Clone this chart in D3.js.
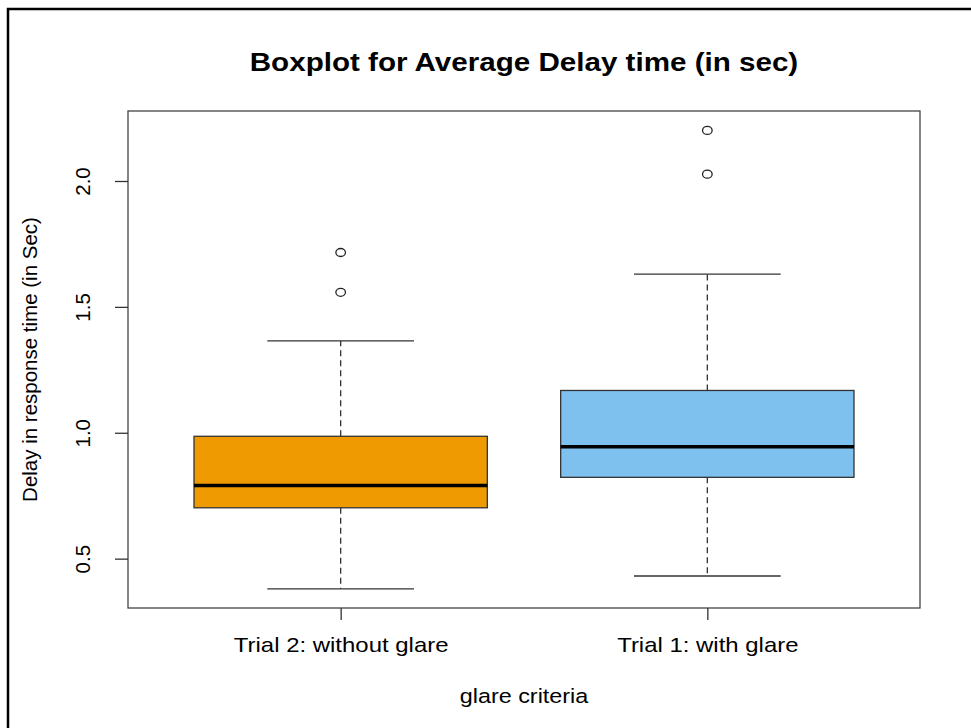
<!DOCTYPE html>
<html>
<head>
<meta charset="utf-8">
<script src="https://d3js.org/d3.v7.min.js"></script>
<style>
body { margin: 0; background: #fff; }
text { font-family: "Liberation Sans", Arial, sans-serif; fill: #000; }
</style>
</head>
<body>
<svg id="box" width="971" height="728"></svg>
<script>
// values
const categories = ["Trial 2: without glare", "Trial 1: with glare"];
const colors = ["#EE9A00", "#7EC0EE"];
const lowWhisker = [0.380, 0.431];
const q1 = [0.702, 0.823];
const median = [0.791, 0.944];
const q3 = [0.986, 1.168];
const highWhisker = [1.365, 1.630];
const outliers = [[1.558, 1.716], [2.027, 2.201]];
const yTicks = [0.5, 1.0, 1.5, 2.0];

const svg = d3.select("#box");

// the screenshot is a bit wider than tall, so horizontal text gets stretched
function stretch(sel, k) {
  sel.each(function() {
    let w = this.getComputedTextLength();
    d3.select(this).attr("textLength", w * k).attr("lengthAdjust", "spacingAndGlyphs");
  });
}

// outer frame of the screenshot
svg.append("rect")
   .attr("x", 8).attr("y", 9)
   .attr("width", 1000).attr("height", 1000)
   .attr("fill", "none").attr("stroke", "#000").attr("stroke-width", 2.5);

const pLeft = 128, pRight = 920, pTop = 111, pBottom = 608;

let x = d3.scaleLinear().domain([0.42, 2.58]).range([pLeft, pRight]);
let y = d3.scaleLinear().domain([0.304, 2.278]).range([pBottom, pTop]);

let boxes = categories.map((c, i) => ({
  name: c, pos: i + 1, color: colors[i],
  lo: lowWhisker[i], q1: q1[i], med: median[i], q3: q3[i], hi: highWhisker[i],
  out: outliers[i]
}));

let g = svg.append("g");
let half = 0.4, capHalf = 0.2;

let bx = g.selectAll(".bx").data(boxes).join("g").attr("class", "bx");

// dashed whiskers
bx.append("line")
  .attr("x1", d => x(d.pos)).attr("x2", d => x(d.pos))
  .attr("y1", d => y(d.q3)).attr("y2", d => y(d.hi))
  .attr("stroke", "#333").attr("stroke-width", 1.3).attr("stroke-dasharray", "6,4");
bx.append("line")
  .attr("x1", d => x(d.pos)).attr("x2", d => x(d.pos))
  .attr("y1", d => y(d.q1)).attr("y2", d => y(d.lo))
  .attr("stroke", "#333").attr("stroke-width", 1.3).attr("stroke-dasharray", "6,4");

// caps
["lo", "hi"].forEach(k => {
  bx.append("line")
    .attr("x1", d => x(d.pos - capHalf)).attr("x2", d => x(d.pos + capHalf))
    .attr("y1", d => y(d[k])).attr("y2", d => y(d[k]))
    .attr("stroke", "#333").attr("stroke-width", 1.3);
});

// box
bx.append("rect")
  .attr("x", d => x(d.pos - half))
  .attr("width", d => x(d.pos + half) - x(d.pos - half))
  .attr("y", d => y(d.q3))
  .attr("height", d => y(d.q1) - y(d.q3))
  .attr("fill", d => d.color)
  .attr("stroke", "#333").attr("stroke-width", 1.3);

// median
bx.append("line")
  .attr("x1", d => x(d.pos - half)).attr("x2", d => x(d.pos + half))
  .attr("y1", d => y(d.med)).attr("y2", d => y(d.med))
  .attr("stroke", "#000").attr("stroke-width", 3.5);

// outliers
bx.selectAll("ellipse")
  .data(d => d.out.map(v => ({pos: d.pos, v: v})))
  .join("ellipse")
  .attr("cx", d => x(d.pos)).attr("cy", d => y(d.v))
  .attr("rx", 4.8).attr("ry", 4)
  .attr("fill", "none").attr("stroke", "#222").attr("stroke-width", 1.3);

// plot frame
svg.append("rect")
   .attr("x", pLeft).attr("y", pTop)
   .attr("width", pRight - pLeft).attr("height", pBottom - pTop)
   .attr("fill", "none").attr("stroke", "#444").attr("stroke-width", 1.3);

// y axis
let yAxis = svg.append("g")
   .attr("transform", "translate(" + pLeft + ",0)")
   .call(d3.axisLeft(y).tickValues(yTicks).tickFormat(d3.format(".1f")).tickSize(13).tickPadding(0));
yAxis.select(".domain").remove();
yAxis.selectAll("line").attr("stroke", "#333").attr("stroke-width", 1.3);
yAxis.selectAll("text")
     .attr("x", null).attr("dy", null)
     .attr("transform", "translate(-45,0) rotate(-90)")
     .attr("text-anchor", "middle")
     .attr("font-size", 20.5)
     .attr("font-family", "Liberation Sans, Arial, sans-serif")
     .attr("fill", "#000")
     .attr("y", 7);

// x axis
let xAxis = svg.append("g")
   .attr("transform", "translate(0," + pBottom + ")")
   .call(d3.axisBottom(x).tickValues([1, 2]).tickFormat(d => categories[d - 1]).tickSize(12).tickPadding(16));
xAxis.select(".domain").remove();
xAxis.selectAll("line").attr("stroke", "#333").attr("stroke-width", 1.3);
xAxis.selectAll("text")
     .attr("font-size", 21)
     .attr("dy", "0.74em")
     .attr("font-family", "Liberation Sans, Arial, sans-serif")
     .attr("fill", "#000")
     .call(stretch, 1.14);

// titles
svg.append("text")
   .attr("x", (pLeft + pRight) / 2).attr("y", 71)
   .attr("text-anchor", "middle")
   .attr("font-size", 25.5).attr("font-weight", "bold")
   .text("Boxplot for Average Delay time (in sec)")
   .call(stretch, 1.16);

svg.append("text")
   .attr("x", (pLeft + pRight) / 2).attr("y", 703)
   .attr("text-anchor", "middle")
   .attr("font-size", 20.5)
   .text("glare criteria")
   .call(stretch, 1.14);

svg.append("text")
   .attr("transform", "translate(37," + (pTop + pBottom) / 2 + ") rotate(-90)")
   .attr("text-anchor", "middle")
   .attr("font-size", 20.5)
   .text("Delay in response time (in Sec)");
</script>
</body>
</html>
